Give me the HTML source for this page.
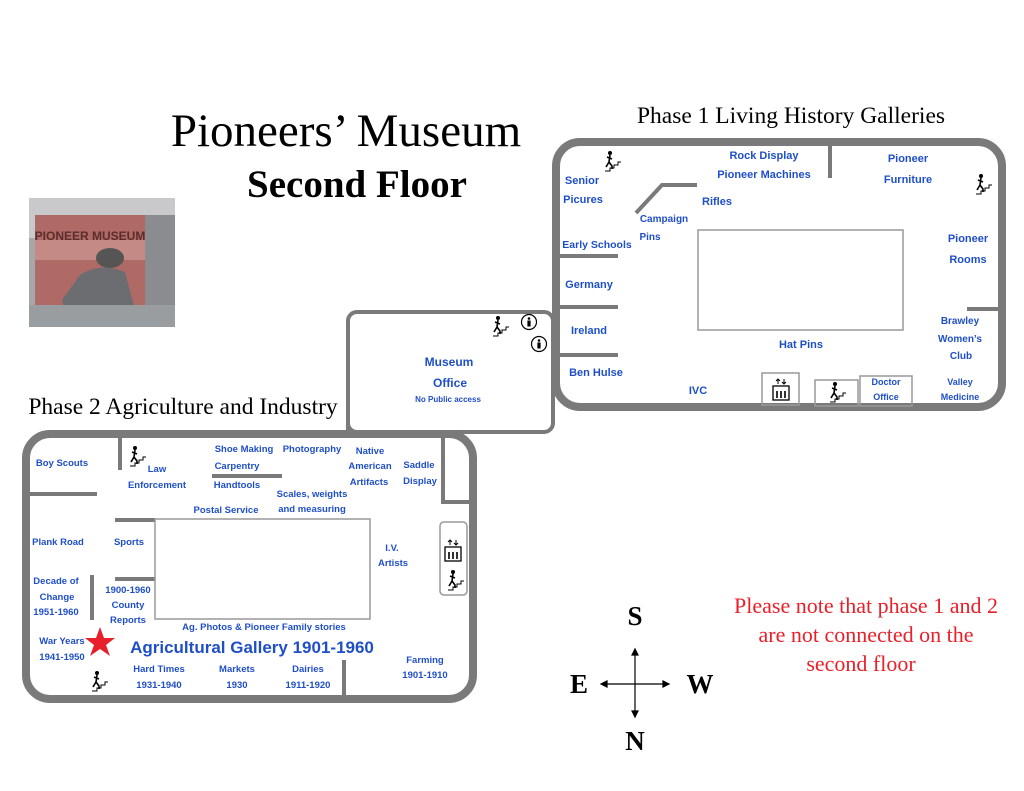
<!DOCTYPE html>
<html><head><meta charset="utf-8"><style>
html,body{margin:0;padding:0;background:#fff;}
svg{display:block;}
.b{font-family:"Liberation Sans Narrow","Liberation Sans",sans-serif;font-weight:bold;fill:#1f4fc8;font-size:11px;text-anchor:middle;}
.s{font-family:"Liberation Serif",serif;}
</style></head><body>
<svg width="1024" height="791" viewBox="0 0 1024 791" xmlns="http://www.w3.org/2000/svg">
<defs>
<g id="st"><circle cx="4" cy="-13" r="2" fill="#000"/><path d="M4 -11 L3 -4 L0 1 M3 -4 L6 0 L6 3 M1 -9 L6 -7" stroke="#000" stroke-width="1.6" fill="none"/><path d="M-1 5 H4 V2 H8 V-1 H12 V-4 H15" stroke="#000" stroke-width="1" fill="none"/></g>
<g id="el"><rect x="-8" y="-2" width="16" height="14" fill="none" stroke="#000" stroke-width="1.3"/><path d="M-4 3v7M0 3v7M4 3v7" stroke="#000" stroke-width="1.6"/><path d="M-3 -4v-5M-5 -7l2-2 2 2M3 -9v5M1 -6l2 2 2-2" stroke="#000" stroke-width="1" fill="none"/></g>
<g id="wc"><circle r="7.5" fill="#fff" stroke="#000" stroke-width="1.2"/><circle cy="-3.5" r="1.3" fill="#000"/><rect x="-1.6" y="-1.5" width="3.2" height="6" fill="#000"/></g>
</defs>

<text x="346" y="146" class="s" font-size="47" text-anchor="middle" fill="#000">Pioneers’ Museum</text>
<text x="357" y="197" class="s" font-size="39" font-weight="bold" text-anchor="middle" fill="#000">Second Floor</text>
<text x="791" y="123" class="s" font-size="23.5" text-anchor="middle" fill="#000">Phase 1 Living History Galleries</text>
<text x="183" y="414" class="s" font-size="23.5" text-anchor="middle" fill="#000">Phase 2 Agriculture and Industry</text>

<rect x="29" y="198" width="146" height="129" fill="#a8a6a8"/>
<rect x="29" y="198" width="146" height="40" fill="#c9c9cc"/>
<rect x="35" y="215" width="112" height="95" fill="#b06a66"/>
<rect x="35" y="240" width="112" height="20" fill="#c48a86"/>
<text x="90" y="240" font-family="Liberation Sans" font-weight="bold" font-size="12" fill="#5a2d2a" text-anchor="middle">PIONEER MUSEUM</text>
<rect x="145" y="215" width="30" height="112" fill="#8a8c90"/>
<ellipse cx="110" cy="258" rx="14" ry="10" fill="#555"/>
<path d="M80 275 Q100 262 125 272 L135 310 L130 327 L70 327 L62 300 Z" fill="#6b6d70"/>
<rect x="29" y="305" width="146" height="22" fill="#9a9da0"/>

<rect x="348" y="312" width="205" height="120" rx="9" fill="#fff" stroke="#7a7a7a" stroke-width="4"/>
<rect x="556" y="142" width="446" height="265" rx="24" fill="#fff" stroke="#7a7a7a" stroke-width="8"/>
<rect x="26" y="434" width="447" height="265" rx="24" fill="#fff" stroke="#7a7a7a" stroke-width="8"/>
<path d="M348 380 V432" stroke="#7a7a7a" stroke-width="4"/>

<g stroke="#7a7a7a" stroke-width="4" fill="none">
<path d="M830 145 V178"/>
<path d="M636 213 L662 185 H697"/>
<path d="M558 256 H618 M558 307 H618 M558 355 H618"/>
<path d="M967 309 H1000"/>
<path d="M120 437 V470 M30 494 H97 M212 476 H282 M115 520 H155 M115 579 H155 M92 575 V620 M344 660 V698 M443 437 V502 H470"/>
</g>
<g fill="none" stroke="#999" stroke-width="1.5">
<rect x="698" y="230" width="205" height="100"/>
<rect x="155" y="519" width="215" height="100"/>
<rect x="762" y="373" width="37" height="32"/>
<rect x="815" y="380" width="43" height="26"/>
<rect x="860" y="376" width="52" height="30"/>
<rect x="440" y="522" width="27" height="73" rx="4"/>
</g>

<use href="#st" x="606" y="166"/><use href="#st" x="977" y="189"/>
<use href="#st" x="494" y="331"/><use href="#wc" x="529" y="322"/><use href="#wc" x="539" y="344"/>
<use href="#el" x="781" y="388"/><use href="#st" x="831" y="397"/>
<use href="#st" x="131" y="461"/><use href="#st" x="93" y="686"/>
<use href="#el" x="453" y="549"/><use href="#st" x="449" y="585"/>

<g class="b">
<text x="764" y="159">Rock Display</text>
<text x="764" y="178">Pioneer Machines</text>
<text x="908" y="162">Pioneer</text><text x="908" y="183">Furniture</text>
<text x="582" y="184">Senior</text><text x="583" y="203">Picures</text>
<text x="717" y="205">Rifles</text>
<text x="664" y="222" font-size="10">Campaign</text><text x="650" y="240" font-size="10">Pins</text>
<text x="597" y="248" font-size="10.5">Early Schools</text>
<text x="589" y="288">Germany</text>
<text x="589" y="334">Ireland</text>
<text x="596" y="376">Ben Hulse</text>
<text x="698" y="394">IVC</text>
<text x="801" y="348">Hat Pins</text>
<text x="968" y="242">Pioneer</text><text x="968" y="263">Rooms</text>
<text x="960" y="324" font-size="10">Brawley</text><text x="960" y="342" font-size="10">Women’s</text><text x="961" y="359" font-size="10">Club</text>
<text x="886" y="385" font-size="9">Doctor</text><text x="886" y="400" font-size="9">Office</text>
<text x="960" y="385" font-size="9">Valley</text><text x="960" y="400" font-size="9">Medicine</text>
<text x="449" y="366" font-size="12">Museum</text><text x="450" y="387" font-size="12">Office</text>
<text x="448" y="402" font-size="8">No Public access</text>

<text x="62" y="466" font-size="9.5">Boy Scouts</text>
<text x="157" y="472" font-size="9.5">Law</text><text x="157" y="488" font-size="9.5">Enforcement</text>
<text x="244" y="452" font-size="9.5">Shoe Making</text><text x="237" y="469" font-size="9.5">Carpentry</text><text x="237" y="488" font-size="9.5">Handtools</text>
<text x="312" y="452" font-size="9.5">Photography</text>
<text x="370" y="454" font-size="9.5">Native</text><text x="370" y="469" font-size="9.5">American</text><text x="369" y="485" font-size="9.5">Artifacts</text>
<text x="419" y="468" font-size="9.5">Saddle</text><text x="420" y="484" font-size="9.5">Display</text>
<text x="312" y="497" font-size="9.5">Scales, weights</text><text x="312" y="512" font-size="9.5">and measuring</text>
<text x="226" y="513" font-size="9.5">Postal Service</text>
<text x="58" y="545" font-size="9.5">Plank Road</text>
<text x="129" y="545" font-size="9.5">Sports</text>
<text x="392" y="551" font-size="9.5">I.V.</text><text x="393" y="566" font-size="9.5">Artists</text>
<text x="56" y="584" font-size="9.5">Decade of</text><text x="57" y="600" font-size="9.5">Change</text><text x="56" y="615" font-size="9.5">1951-1960</text>
<text x="128" y="593" font-size="9.5">1900-1960</text><text x="128" y="608" font-size="9.5">County</text><text x="128" y="623" font-size="9.5">Reports</text>
<text x="264" y="630" font-size="9.5">Ag. Photos &amp; Pioneer Family stories</text>
<text x="62" y="644" font-size="9.5">War Years</text><text x="62" y="660" font-size="9.5">1941-1950</text>
<text x="252" y="653" font-size="17">Agricultural Gallery 1901-1960</text>
<text x="159" y="672" font-size="9.5">Hard Times</text><text x="159" y="688" font-size="9.5">1931-1940</text>
<text x="237" y="672" font-size="9.5">Markets</text><text x="237" y="688" font-size="9.5">1930</text>
<text x="308" y="672" font-size="9.5">Dairies</text><text x="308" y="688" font-size="9.5">1911-1920</text>
<text x="425" y="663" font-size="9.5">Farming</text><text x="425" y="678" font-size="9.5">1901-1910</text>
</g>
<polygon points="100,627 104,638 115,638 106,645 110,656 100,649 90,656 94,645 85,638 96,638" fill="#e8202a"/>

<g font-family="Liberation Serif,serif" font-size="22" fill="#e8202a" text-anchor="middle">
<text x="866" y="613">Please note that phase 1 and 2</text>
<text x="866" y="642">are not connected on the</text>
<text x="861" y="671">second floor</text>
</g>

<g stroke="#000" stroke-width="1.2" fill="#000">
<path d="M635 651 V715 M603 684 H667" fill="none"/>
<path d="M635 649 l-3 6 h6z M635 717 l-3 -6 h6z M601 684 l6 -3 v6z M669 684 l-6 -3 v6z"/>
</g>
<g font-family="Liberation Serif,serif" font-size="27" font-weight="bold" text-anchor="middle" fill="#000">
<text x="635" y="625">S</text><text x="635" y="750">N</text><text x="579" y="693">E</text><text x="700" y="693">W</text>
</g>
</svg>
</body></html>
